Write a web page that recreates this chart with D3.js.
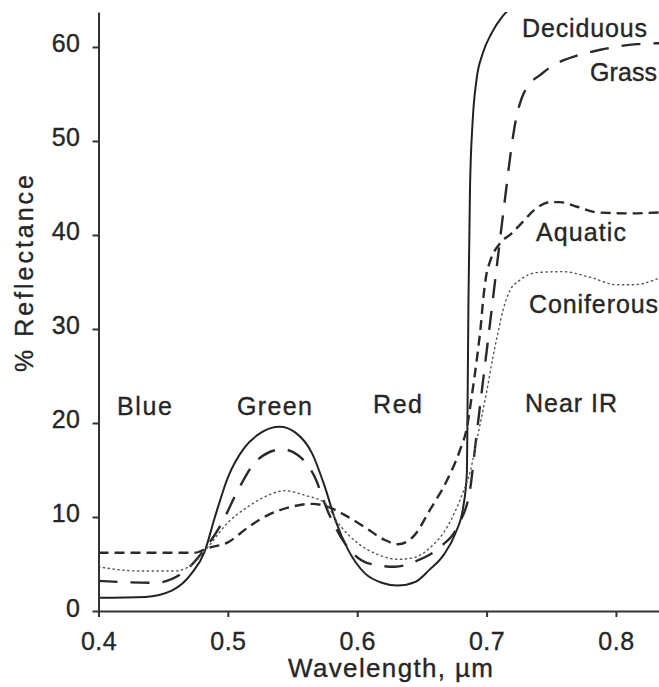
<!DOCTYPE html>
<html>
<head>
<meta charset="utf-8">
<script src="https://cdn.jsdelivr.net/npm/d3@7"></script>
<style>
  body { margin: 0; background: #fff; }
  text { font-family: "Liberation Sans", Arial, Helvetica, sans-serif; fill: #262626; stroke: #262626; stroke-width: 0.35px; }
  .axis path, .axis line { stroke: #333; stroke-width: 2; }
  .axis text { font-size: 25px; letter-spacing: 0.5px; }
</style>
</head>
<body>
<div id="chart"></div>
<script>
// wavelength (um), % reflectance
var deciduous = [
  [0.4, 1.4], [0.436, 1.5], [0.457, 2.2], [0.472, 4.0], [0.482, 6.3], [0.490, 10.0],
  [0.500, 14.2], [0.513, 17.4], [0.526, 19.0], [0.540, 19.6], [0.552, 19.0], [0.565, 16.8],
  [0.575, 13.2], [0.583, 9.7], [0.593, 6.5], [0.606, 4.0], [0.619, 3.0], [0.631, 2.7],
  [0.645, 3.1], [0.656, 4.4], [0.667, 6.0], [0.676, 8.3], [0.682, 11.1], [0.6848, 14.7],
  [0.6853, 21.7], [0.6860, 33], [0.6872, 45], [0.6892, 52], [0.6922, 56.5], [0.697, 59.3],
  [0.704, 61.5], [0.712, 63.2], [0.720, 64.3], [0.728, 65]
];
var grass = [
  [0.4, 3.2], [0.4437, 3.0], [0.4645, 4.0], [0.480, 6.2], [0.4955, 9.4], [0.508, 12.9],
  [0.523, 16.1], [0.542, 17.2], [0.554, 16.6], [0.567, 14.3], [0.577, 10.7], [0.5905, 7.2],
  [0.608, 5.1], [0.629, 4.7], [0.647, 5.4], [0.664, 6.8], [0.678, 9.1], [0.6872, 12.9],
  [0.6918, 18.2], [0.6964, 23.5], [0.7011, 28.8], [0.7057, 34.1], [0.7103, 39.4],
  [0.715, 44.7], [0.7188, 48.9], [0.7227, 52.3], [0.7273, 54.6], [0.7335, 56.1],
  [0.7413, 57.0], [0.752, 58.1], [0.7637, 58.8], [0.788, 59.7], [0.816, 60.3], [0.8333, 60.4]
];
var aquatic = [
  [0.4, 6.2], [0.4746, 6.2], [0.4846, 6.7], [0.500, 7.3], [0.5156, 8.9], [0.531, 10.2],
  [0.5496, 11.1], [0.565, 11.4], [0.577, 11.1], [0.5905, 10.2], [0.606, 8.9], [0.6214, 7.55],
  [0.6315, 7.1], [0.6445, 8.1], [0.656, 10.7], [0.6694, 13.9], [0.6794, 17.1], [0.6848, 19.5],
  [0.6887, 23.0], [0.6926, 26.9], [0.6955, 30.3], [0.6975, 33.3], [0.6995, 35.5],
  [0.7030, 37.3], [0.7103, 39.1], [0.7196, 40.2], [0.728, 41.4], [0.7373, 42.7],
  [0.749, 43.5], [0.7567, 43.5], [0.770, 43.0], [0.7853, 42.4], [0.8108, 42.3], [0.8333, 42.4]
];
var coniferous = [
  [0.4, 4.7], [0.4305, 4.26], [0.459, 4.26], [0.4746, 5.2], [0.4846, 6.8], [0.500, 9.4],
  [0.5156, 11.1], [0.531, 12.3], [0.544, 12.8], [0.5596, 12.3], [0.575, 11.5], [0.585, 9.4],
  [0.6006, 7.2], [0.616, 6.0], [0.6315, 5.5], [0.6445, 5.7], [0.656, 6.7], [0.6694, 8.9],
  [0.6817, 12.6], [0.6871, 14.7], [0.6925, 18.2], [0.7003, 23.5], [0.7049, 27.0],
  [0.7088, 29.6], [0.7127, 32.0], [0.7181, 34.1], [0.7258, 35.2], [0.739, 36.0],
  [0.759, 36.1], [0.780, 35.5], [0.8008, 34.7], [0.8131, 34.7], [0.8333, 35.4]
];

var xTicks = [0.4, 0.5, 0.6, 0.7, 0.8];
var yTicks = [0, 10, 20, 30, 40, 50, 60];

var curveLabels = [
  { name: "Deciduous", x: 522, y: 37, w: 125 },
  { name: "Grass", x: 590, y: 81, w: 67 },
  { name: "Aquatic", x: 536, y: 241, w: 90 },
  { name: "Coniferous", x: 529, y: 313, w: 129 }
];
var bandLabels = [
  { name: "Blue", x: 117, y: 415, w: 55 },
  { name: "Green", x: 237, y: 415, w: 75 },
  { name: "Red", x: 373, y: 413, w: 49 },
  { name: "Near IR", x: 525, y: 412, w: 92 }
];

var svgWidth = 659;
var svgHeight = 687;
var margin = { top: 12, right: 0, bottom: 76, left: 98.5 };
var width = svgWidth - margin.left - margin.right;
var height = svgHeight - margin.top - margin.bottom;

var svg = d3.select("#chart")
  .append("svg")
  .attr("width", svgWidth)
  .attr("height", svgHeight);

var x = d3.scaleLinear().domain([0.4, 0.8333]).range([margin.left, svgWidth - margin.right]);
var y = d3.scaleLinear().domain([0, 63.72]).range([margin.top + height, margin.top]);

svg.append("clipPath")
  .attr("id", "plot")
  .append("rect")
  .attr("x", margin.left)
  .attr("y", margin.top)
  .attr("width", width)
  .attr("height", height);

var line = d3.line()
  .x(d => x(d[0]))
  .y(d => y(d[1]))
  .curve(d3.curveMonotoneX);

var series = [
  { data: deciduous, dash: null, w: 2, color: "#222" },
  { data: grass, dash: "19 13", w: 2.4, color: "#2a2a2a" },
  { data: aquatic, dash: "10 6", w: 2.4, color: "#2a2a2a" },
  { data: coniferous, dash: "1.3 3.6", w: 1.4, color: "#555" }
];

var lines = svg.append("g").attr("clip-path", "url(#plot)");
series.forEach(function(s) {
  lines.append("path")
    .datum(s.data)
    .attr("d", line)
    .attr("fill", "none")
    .attr("stroke", s.color)
    .attr("stroke-width", s.w)
    .attr("stroke-dasharray", s.dash)
    .attr("stroke-linecap", s.dash && s.w < 2 ? "round" : "butt");
});

// axes
var xAxis = svg.append("g")
  .attr("class", "axis")
  .attr("transform", `translate(0, ${y(0)})`)
  .call(d3.axisBottom(x).tickValues(xTicks).tickSize(6).tickSizeOuter(0).tickPadding(15)
    .tickFormat(d3.format(".1f")));
xAxis.selectAll("text").attr("dy", "0.71em");

var yAxis = svg.append("g")
  .attr("class", "axis")
  .attr("transform", `translate(${margin.left}, 0)`)
  .call(d3.axisLeft(y).tickValues(yTicks).tickSize(6).tickSizeOuter(0).tickPadding(12));
yAxis.selectAll("text").attr("dy", "0.2em");

// curve and band labels
svg.selectAll(".clabel")
  .data(curveLabels.concat(bandLabels))
  .enter()
  .append("text")
  .attr("x", d => d.x)
  .attr("y", d => d.y)
  .attr("textLength", d => d.w)
  .attr("font-size", "25px")
  .text(d => d.name);

svg.append("text")
  .attr("x", 288)
  .attr("y", 677)
  .attr("font-size", "26px")
  .attr("textLength", 205)
  .text("Wavelength, \u00b5m");

svg.append("text")
  .attr("transform", "translate(33, 372) rotate(-90)")
  .attr("font-size", "25px")
  .attr("textLength", 197)
  .text("% Reflectance");
</script>
</body>
</html>
